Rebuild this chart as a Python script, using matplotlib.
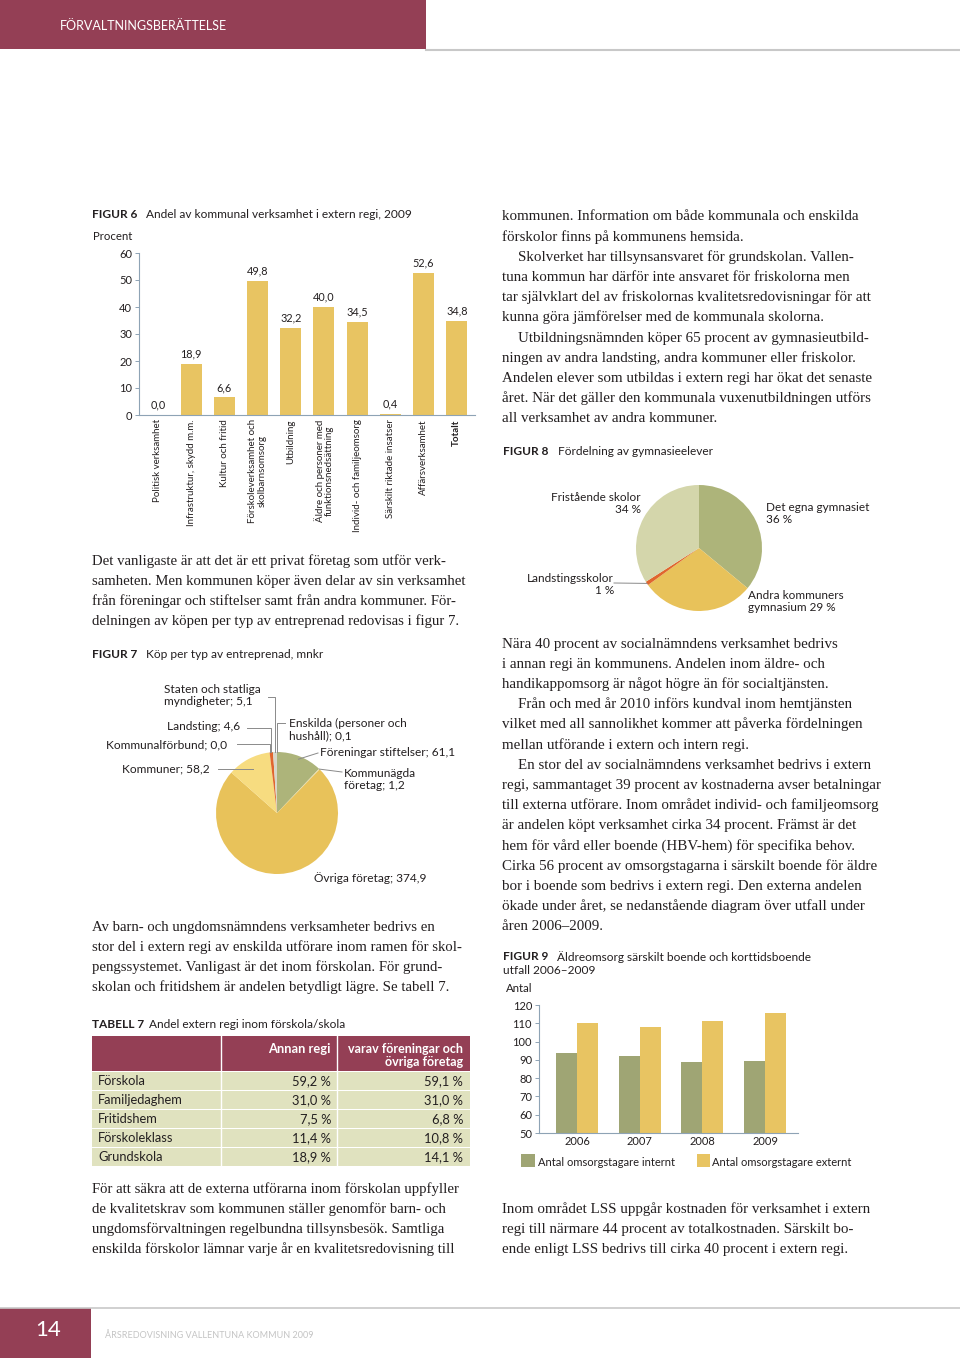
import matplotlib
matplotlib.use('Agg')
import numpy as np
import matplotlib.pyplot as plt
from matplotlib.patches import Rectangle
from matplotlib.lines import Line2D

# ---------------- DATA ----------------
fig6_categories = ['Politisk verksamhet', 'Infrastruktur, skydd m.m.', 'Kultur och fritid',
                   'Förskoleverksamhet och\nskolbarnsomsorg', 'Utbildning',
                   'Äldre och personer med\nfunktionsnedsättning', 'Individ- och familjeomsorg',
                   'Särskilt riktade insatser', 'Affärsverksamhet', 'Totalt']
fig6_values = [0.0, 18.9, 6.6, 49.8, 32.2, 40.0, 34.5, 0.4, 52.6, 34.8]
fig6_yticks = [0, 10, 20, 30, 40, 50, 60]

fig7_labels = ['Föreningar stiftelser', 'Kommunägda företag', 'Övriga företag', 'Kommuner',
               'Kommunalförbund', 'Landsting', 'Staten och statliga myndigheter',
               'Enskilda (personer och hushåll)']
fig7_values = [61.1, 1.2, 374.9, 58.2, 0.0, 4.6, 5.1, 0.1]

fig8_labels = ['Det egna gymnasiet', 'Andra kommuners gymnasium', 'Landstingsskolor', 'Fristående skolor']
fig8_values = [36, 29, 1, 34]

fig9_years = ['2006', '2007', '2008', '2009']
fig9_internt = [94.0, 92.0, 88.6, 89.3]
fig9_externt = [110.0, 108.0, 111.0, 115.4]
fig9_yticks = [50, 60, 70, 80, 90, 100, 110, 120]

tab7_rows = ['Förskola', 'Familjedaghem', 'Fritidshem', 'Förskoleklass', 'Grundskola']
tab7_annan = [59.2, 31.0, 7.5, 11.4, 18.9]
tab7_varav = [59.1, 31.0, 6.8, 10.8, 14.1]

# ---------------- STYLE ----------------
W, H = 960, 1358
SANS = ['Lato', 'DejaVu Sans']
SERIF = ['Liberation Serif', 'DejaVu Serif']
MAROON = '#943f55'
GOLD = '#e8c462'
GOLD2 = '#e8c25a'
OLIVE = '#9fa574'
GREEN = '#adb47a'
PALEGREEN = '#d4d6ab'
LIGHTYEL = '#f7dc80'
ORANGE = '#e0662e'
AXC = '#8ea3b5'
TXT = '#231f20'
BODY = 10.85
TITLE = 8.6
TABFS = 9.3

fig = plt.figure(figsize=(9.6, 13.58), dpi=100)
fig.patch.set_facecolor('white')


def X(px):
    return px / W


def Y(py):
    return 1 - py / H


def add_ax(l, t, r, b):
    return fig.add_axes([X(l), Y(b), (r - l) / W, (b - t) / H])


def t(x, y, s, size=8.3, family=SANS, ha='left', va='center', **kw):
    kw.setdefault('color', TXT)
    return fig.text(X(x), Y(y), s, fontsize=size, family=family, ha=ha, va=va, **kw)


def fline(xs, ys, color='#8a8a8a', lw=0.7):
    fig.add_artist(Line2D([X(v) for v in xs], [Y(v) for v in ys], color=color, lw=lw,
                          transform=fig.transFigure))


def frect(l, tp, r, b, color):
    fig.add_artist(Rectangle((X(l), Y(b)), (r - l) / W, (b - tp) / H, facecolor=color,
                             edgecolor='none', transform=fig.transFigure))


def body(lines, x, y0, lh=20.2, size=BODY):
    for i, (s, ind) in enumerate(lines):
        fig.text(X(x + ind), Y(y0 + i * lh + 4.5), s, fontsize=size, family=SERIF,
                 ha='left', va='baseline', color=TXT)


def fmt(v):
    return ('%.1f' % v).replace('.', ',')


# ---------------- HEADER / FOOTER ----------------
frect(0, 0, 426, 49, MAROON)
fline([426, 960], [49.5, 49.5], color='#c8c8c8', lw=1.5)
t(60, 26, 'FÖRVALTNINGSBERÄTTELSE', size=9.0, color='white')

fline([0, 960], [1307.5, 1307.5], color='#c8c8c8', lw=1.2)
frect(0, 1308, 91, 1358, MAROON)
t(48, 1330, '14', size=16, ha='center', color='white')
t(105, 1335, 'ÅRSREDOVISNING VALLENTUNA KOMMUN 2009', size=6.5, color='#c4c4c4')

# ---------------- FIGUR 6 ----------------
t(92, 214, 'FIGUR 6', size=TITLE, fontweight='bold')
t(146, 214, 'Andel av kommunal verksamhet i extern regi, 2009', size=TITLE)
t(93, 236, 'Procent', size=8.2)
ax6 = add_ax(139, 253, 475, 415)
x6 = np.arange(len(fig6_values))
ax6.bar(x6, fig6_values, width=0.63, color=GOLD)
ax6.set_xlim(-0.57, 9.55)
ax6.set_ylim(0, 60)
ax6.set_yticks(fig6_yticks)
ax6.set_yticklabels([str(v) for v in fig6_yticks], fontsize=8.0, family=SANS, color=TXT)
ax6.set_xticks(x6)
ax6.set_xticklabels(fig6_categories, rotation=90, va='top', ha='center', fontsize=7.0,
                    family=SANS, color=TXT, linespacing=1.05)
ax6.get_xticklabels()[-1].set_fontweight('bold')
ax6.tick_params(axis='x', length=0, pad=3)
ax6.tick_params(axis='y', length=3, width=0.7, color=AXC, pad=2)
for s in ['top', 'right']:
    ax6.spines[s].set_visible(False)
for s in ['left', 'bottom']:
    ax6.spines[s].set_color(AXC)
    ax6.spines[s].set_linewidth(0.8)
for xi, v in zip(x6, fig6_values):
    ax6.annotate(fmt(v), (xi, v), xytext=(0, 3), textcoords='offset points',
                 ha='center', va='bottom', fontsize=7.8, family=SANS, color=TXT)

# ---------------- LEFT TEXT 1 ----------------
body([
    ('Det vanligaste är att det är ett privat företag som utför verk-', 0),
    ('samheten. Men kommunen köper även delar av sin verksamhet', 0),
    ('från föreningar och stiftelser samt från andra kommuner. För-', 0),
    ('delningen av köpen per typ av entreprenad redovisas i figur 7.', 0),
], 92, 560, size=10.6)

# ---------------- FIGUR 7 ----------------
t(92, 654, 'FIGUR 7', size=TITLE, fontweight='bold')
t(146, 654, 'Köp per typ av entreprenad, mnkr', size=TITLE)
cx7, cy7, r7 = 277, 813, 61
ax7 = add_ax(cx7 - r7, cy7 - r7, cx7 + r7, cy7 + r7)
cols7 = [GREEN, '#e5d9a0', GOLD2, LIGHTYEL, '#999999', ORANGE, '#d6d6c8', '#cccccc']
wedges7, _ = ax7.pie(fig7_values, colors=cols7, startangle=90, counterclock=False,
                     radius=1.0, wedgeprops=dict(linewidth=0))
ax7.set_xlim(-1, 1)
ax7.set_ylim(-1, 1)
ax7.set_aspect('equal')
ax7.axis('off')


def wedge_px(ax, w, cx, cy, r, frac=1.0):
    th = np.deg2rad((w.theta1 + w.theta2) / 2)
    return cx + frac * r * np.cos(th), cy - frac * r * np.sin(th)


FS7 = 8.6
# Föreningar
px, py = wedge_px(ax7, wedges7[0], cx7, cy7, r7, 0.95)
fline([px, 318], [py, 753])
t(320, 753, 'Föreningar stiftelser; 61,1', size=FS7)
# Kommunägda
px, py = wedge_px(ax7, wedges7[1], cx7, cy7, r7, 1.0)
fline([px, 342], [py, 772])
t(344, 779.5, 'Kommunägda\nföretag; 1,2', size=FS7, linespacing=1.1)
# Övriga
t(314, 878, 'Övriga företag; 374,9', size=FS7)
# Kommuner
px, py = wedge_px(ax7, wedges7[3], cx7, cy7, r7, 0.85)
fline([218, px], [769, 769])
t(122, 769, 'Kommuner; 58,2', size=FS7)
# Kommunalförbund
px, py = wedge_px(ax7, wedges7[4], cx7, cy7, r7, 1.0)
fline([237, px, px], [744, 744, py])
t(106, 745, 'Kommunalförbund; 0,0', size=FS7)
# Landsting
px, py = wedge_px(ax7, wedges7[5], cx7, cy7, r7, 1.0)
fline([247, px, px], [728, 728, py])
t(167, 727, 'Landsting; 4,6', size=FS7)
# Staten
px, py = wedge_px(ax7, wedges7[6], cx7, cy7, r7, 1.0)
fline([268, px, px], [697, 697, py])
t(164, 695.5, 'Staten och statliga\nmyndigheter; 5,1', size=FS7, linespacing=1.1)
# Enskilda
px, py = wedge_px(ax7, wedges7[7], cx7, cy7, r7, 1.0)
fline([px, px, 285], [py, 723, 723])
t(289, 729.5, 'Enskilda (personer och\nhushåll); 0,1', size=FS7, linespacing=1.1)

# ---------------- LEFT TEXT 2 ----------------
body([
    ('Av barn- och ungdomsnämndens verksamheter bedrivs en', 0),
    ('stor del i extern regi av enskilda utförare inom ramen för skol-', 0),
    ('pengssystemet. Vanligast är det inom förskolan. För grund-', 0),
    ('skolan och fritidshem är andelen betydligt lägre. Se tabell 7.', 0),
], 92, 926, size=10.6)

# ---------------- TABELL 7 ----------------
t(92, 1024, 'TABELL 7', size=TITLE, fontweight='bold')
t(149, 1024, 'Andel extern regi inom förskola/skola', size=TITLE)
TL, TR = 92, 470
frect(TL, 1036, TR, 1071, MAROON)
ROWC = '#e0e2bf'
row_h = 19
for i, (name, a, v) in enumerate(zip(tab7_rows, tab7_annan, tab7_varav)):
    top = 1071 + i * row_h
    frect(TL, top + 1, TR, top + row_h, ROWC)
    yc = top + row_h / 2 + 0.5
    t(98, yc, name, size=TABFS)
    t(331, yc, fmt(a) + ' %', size=TABFS, ha='right')
    t(463, yc, fmt(v) + ' %', size=TABFS, ha='right')
fline([221, 221], [1036, 1166], color='white', lw=1.0)
fline([337, 337], [1036, 1166], color='white', lw=1.0)
t(331, 1049, 'Annan regi', size=9.3, ha='right', color='white', fontweight='bold')
t(463, 1055.5, 'varav föreningar och\növriga företag', size=9.0, ha='right', color='white',
  fontweight='bold', linespacing=1.1, multialignment='right')

# ---------------- LEFT TEXT 3 ----------------
body([
    ('För att säkra att de externa utförarna inom förskolan uppfyller', 0),
    ('de kvalitetskrav som kommunen ställer genomför barn- och', 0),
    ('ungdomsförvaltningen regelbundna tillsynsbesök. Samtliga', 0),
    ('enskilda förskolor lämnar varje år en kvalitetsredovisning till', 0),
], 92, 1188, size=10.6)

# ---------------- RIGHT TEXT 1 ----------------
body([
    ('kommunen. Information om både kommunala och enskilda', 0),
    ('förskolor finns på kommunens hemsida.', 0),
    ('Skolverket har tillsynsansvaret för grundskolan. Vallen-', 16),
    ('tuna kommun har därför inte ansvaret för friskolorna men', 0),
    ('tar självklart del av friskolornas kvalitetsredovisningar för att', 0),
    ('kunna göra jämförelser med de kommunala skolorna.', 0),
    ('Utbildningsnämnden köper 65 procent av gymnasieutbild-', 16),
    ('ningen av andra landsting, andra kommuner eller friskolor.', 0),
    ('Andelen elever som utbildas i extern regi har ökat det senaste', 0),
    ('året. När det gäller den kommunala vuxenutbildningen utförs', 0),
    ('all verksamhet av andra kommuner.', 0),
], 502, 216)

# ---------------- FIGUR 8 ----------------
t(503, 452, 'FIGUR 8', size=TITLE, fontweight='bold')
t(558, 452, 'Fördelning av gymnasieelever', size=TITLE)
cx8, cy8, r8 = 699, 548, 63
ax8 = add_ax(cx8 - r8, cy8 - r8, cx8 + r8, cy8 + r8)
wedges8, _ = ax8.pie(fig8_values, colors=[GREEN, GOLD2, ORANGE, PALEGREEN], startangle=90,
                     counterclock=False, radius=1.0, wedgeprops=dict(linewidth=0))
ax8.set_xlim(-1, 1)
ax8.set_ylim(-1, 1)
ax8.set_aspect('equal')
ax8.axis('off')
FS8 = 8.5
t(641, 503.5, 'Fristående skolor\n34 %', size=FS8, ha='right', multialignment='right', linespacing=1.1)
t(766, 513.5, 'Det egna gymnasiet\n36 %', size=FS8, linespacing=1.1)
t(748, 601.5, 'Andra kommuners\ngymnasium 29 %', size=FS8, linespacing=1.1)
t(614, 584.5, 'Landstingsskolor\n1 %', size=FS8, ha='right', multialignment='right', linespacing=1.1)
px, py = wedge_px(ax8, wedges8[2], cx8, cy8, r8, 1.0)
fline([614, px], [583, py])

# ---------------- RIGHT TEXT 2 ----------------
body([
    ('Nära 40 procent av socialnämndens verksamhet bedrivs', 0),
    ('i annan regi än kommunens. Andelen inom äldre- och', 0),
    ('handikappomsorg är något högre än för socialtjänsten.', 0),
    ('Från och med år 2010 införs kundval inom hemtjänsten', 16),
    ('vilket med all sannolikhet kommer att påverka fördelningen', 0),
    ('mellan utförande i extern och intern regi.', 0),
    ('En stor del av socialnämndens verksamhet bedrivs i extern', 16),
    ('regi, sammantaget 39 procent av kostnaderna avser betalningar', 0),
    ('till externa utförare. Inom området individ- och familjeomsorg', 0),
    ('är andelen köpt verksamhet cirka 34 procent. Främst är det', 0),
    ('hem för vård eller boende (HBV-hem) för specifika behov.', 0),
    ('Cirka 56 procent av omsorgstagarna i särskilt boende för äldre', 0),
    ('bor i boende som bedrivs i extern regi. Den externa andelen', 0),
    ('ökade under året, se nedanstående diagram över utfall under', 0),
    ('åren 2006–2009.', 0),
], 502, 643)

# ---------------- FIGUR 9 ----------------
t(503, 957, 'FIGUR 9', size=TITLE, fontweight='bold')
t(557, 957, 'Äldreomsorg särskilt boende och korttidsboende', size=TITLE)
t(503, 971, 'utfall 2006–2009', size=TITLE)
t(506, 989, 'Antal', size=8.2)
ax9 = add_ax(539, 1005, 798, 1133)
x9 = np.arange(len(fig9_years))
bw = 0.335
ax9.bar(x9 - bw / 2, fig9_internt, width=bw, color=OLIVE, label='Antal omsorgstagare internt')
ax9.bar(x9 + bw / 2, fig9_externt, width=bw, color=GOLD, label='Antal omsorgstagare externt')
ax9.set_xlim(-0.606, 3.525)
ax9.set_ylim(50, 120)
ax9.set_yticks(fig9_yticks)
ax9.set_yticklabels([str(v) for v in fig9_yticks], fontsize=8.0, family=SANS, color=TXT)
ax9.set_xticks(x9)
ax9.set_xticklabels(fig9_years, fontsize=8.0, family=SANS, color=TXT)
ax9.tick_params(axis='x', length=0, pad=2)
ax9.tick_params(axis='y', length=3, width=0.7, color=AXC, pad=2)
for s in ['top', 'right']:
    ax9.spines[s].set_visible(False)
for s in ['left', 'bottom']:
    ax9.spines[s].set_color(AXC)
    ax9.spines[s].set_linewidth(0.8)
frect(521, 1154, 535, 1167, OLIVE)
t(538, 1162, 'Antal omsorgstagare internt', size=8.0)
frect(697, 1154, 710, 1167, GOLD)
t(712, 1162, 'Antal omsorgstagare externt', size=8.0)

# ---------------- RIGHT TEXT 3 ----------------
body([
    ('Inom området LSS uppgår kostnaden för verksamhet i extern', 0),
    ('regi till närmare 44 procent av totalkostnaden. Särskilt bo-', 0),
    ('ende enligt LSS bedrivs till cirka 40 procent i extern regi.', 0),
], 502, 1208)

fig.savefig('out.png', dpi=100, facecolor='white')
